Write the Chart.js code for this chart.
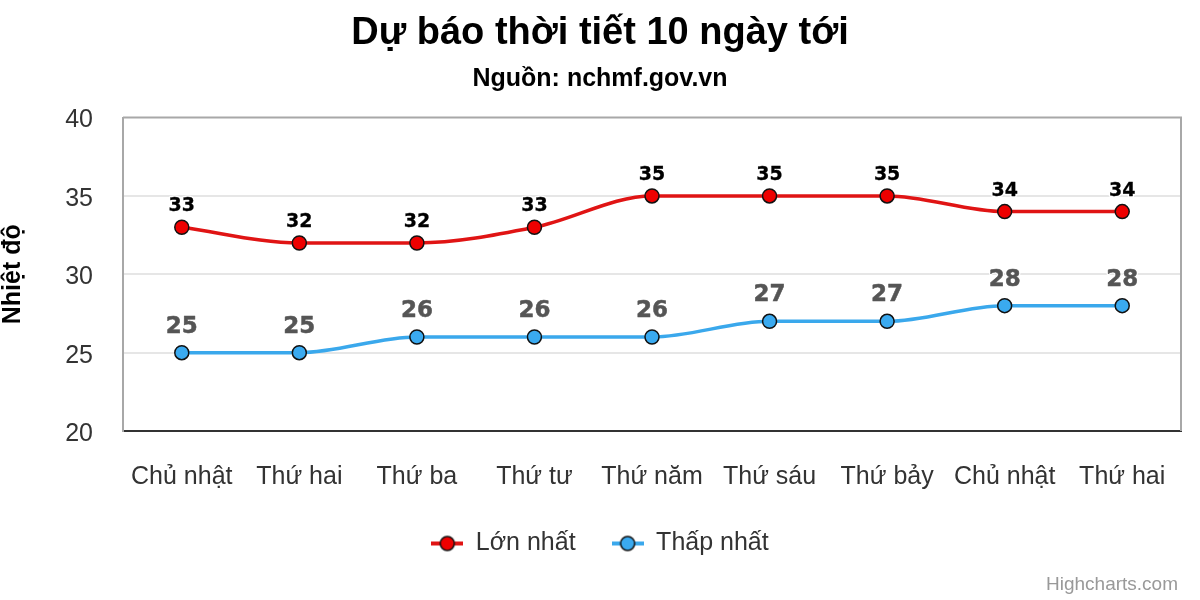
<!DOCTYPE html>
<html>
<head>
<meta charset="utf-8">
<script src="https://cdn.jsdelivr.net/npm/chart.js@4.4.1/dist/chart.umd.min.js"></script>
<style>
  html, body { margin: 0; padding: 0; background: #fff; }
  #wrap { position: relative; width: 1200px; height: 600px; }
  #credit { position: absolute; right: 22px; top: 573px; font: 19px 'Liberation Sans', Arial, sans-serif; color: #999; }
</style>
</head>
<body>
<div id="wrap">
  <canvas id="c" width="1200" height="600"></canvas>
  <div id="credit">Highcharts.com</div>
</div>
<script>
const categories = ['Chủ nhật', 'Thứ hai', 'Thứ ba', 'Thứ tư', 'Thứ năm', 'Thứ sáu', 'Thứ bảy', 'Chủ nhật', 'Thứ hai'];
const maxTemps = [33, 32, 32, 33, 35, 35, 35, 34, 34];
const minTemps = [25, 25, 26, 26, 26, 27, 27, 28, 28];
const yTicks = [20, 25, 30, 35, 40];
const seriesNames = ['Lớn nhất', 'Thấp nhất'];

const FONT = "'Liberation Sans', Arial, Helvetica, sans-serif";

function legendSymbol(lineColor, fillColor) {
  const cv = document.createElement('canvas');
  cv.width = 32; cv.height = 18;
  const g = cv.getContext('2d');
  g.strokeStyle = lineColor; g.lineWidth = 4;
  g.beginPath(); g.moveTo(0, 9); g.lineTo(32, 9); g.stroke();
  g.fillStyle = fillColor; g.strokeStyle = '#111'; g.lineWidth = 1.5;
  g.beginPath(); g.arc(16, 9, 7, 0, Math.PI * 2); g.fill(); g.stroke();
  return cv;
}

const plotBorder = {
  id: 'plotBorder',
  beforeDatasetsDraw(chart) {
    const {ctx, chartArea: a} = chart;
    ctx.save();
    ctx.strokeStyle = '#a8a8a8';
    ctx.lineWidth = 2;
    ctx.beginPath();
    ctx.moveTo(a.left, a.top);
    ctx.lineTo(a.right, a.top);
    ctx.lineTo(a.right, a.bottom);
    ctx.stroke();
    ctx.restore();
  }
};

const labelStyles = [
  {font: "bold 19px 'DejaVu Sans', sans-serif", color: '#000', offset: 21, weight: 0.3},
  {font: "bold 23px 'DejaVu Sans', sans-serif", color: '#555', offset: 26, weight: 0.5}
];

const dataLabels = {
  id: 'dataLabels',
  afterDatasetsDraw(chart) {
    const {ctx} = chart;
    chart.data.datasets.forEach((ds, i) => {
      const meta = chart.getDatasetMeta(i);
      if (meta.hidden) return;
      const st = labelStyles[i];
      ctx.save();
      ctx.font = st.font;
      ctx.textAlign = 'center';
      ctx.textBaseline = 'middle';
      ctx.lineJoin = 'round';
      meta.data.forEach((pt, j) => {
        const txt = String(ds.data[j]);
        const y = pt.y - st.offset;
        ctx.strokeStyle = '#fff';
        ctx.lineWidth = 3;
        ctx.strokeText(txt, pt.x, y);
        ctx.strokeStyle = st.color;
        ctx.lineWidth = st.weight;
        ctx.strokeText(txt, pt.x, y);
        ctx.fillStyle = st.color;
        ctx.fillText(txt, pt.x, y);
      });
      ctx.restore();
    });
  }
};

const legendImages = [legendSymbol('#e01414', '#ee0000'), legendSymbol('#3aa8ec', '#3aaaf0')];

new Chart(document.getElementById('c'), {
  type: 'line',
  data: {
    labels: categories,
    datasets: [
      {
        label: seriesNames[0],
        data: maxTemps,
        borderColor: '#e01414',
        backgroundColor: '#ee0000',
        borderWidth: 3.5,
        pointStyle: 'circle',
        pointRadius: 7,
        pointHoverRadius: 7,
        pointBackgroundColor: '#ee0000',
        pointBorderColor: '#111',
        pointBorderWidth: 1.5,
        cubicInterpolationMode: 'monotone'
      },
      {
        label: seriesNames[1],
        data: minTemps,
        borderColor: '#3aa8ec',
        backgroundColor: '#3aaaf0',
        borderWidth: 3.5,
        pointStyle: 'circle',
        pointRadius: 7,
        pointHoverRadius: 7,
        pointBackgroundColor: '#3aaaf0',
        pointBorderColor: '#111',
        pointBorderWidth: 1.5,
        cubicInterpolationMode: 'monotone'
      }
    ]
  },
  options: {
    responsive: false,
    animation: false,
    layout: { padding: { left: 19, right: 19, top: 0, bottom: 34 } },
    plugins: {
      title: {
        display: true,
        text: 'Dự báo thời tiết 10 ngày tới',
        color: '#000',
        font: { family: FONT, size: 38, weight: 'bold' },
        padding: { top: 11, bottom: 8 }
      },
      subtitle: {
        display: true,
        text: 'Nguồn: nchmf.gov.vn',
        color: '#000',
        font: { family: FONT, size: 25, weight: 'bold' },
        padding: { top: 0, bottom: 23 }
      },
      legend: {
        position: 'bottom',
        labels: {
          usePointStyle: true,
          pointStyleWidth: 32,
          padding: 36,
          color: '#333',
          font: { family: FONT, size: 25 },
          generateLabels(chart) {
            return chart.data.datasets.map((ds, i) => ({
              text: ds.label,
              fillStyle: ds.backgroundColor,
              strokeStyle: ds.borderColor,
              pointStyle: legendImages[i],
              hidden: !chart.isDatasetVisible(i),
              datasetIndex: i,
              fontColor: '#333'
            }));
          }
        }
      },
      tooltip: { enabled: false }
    },
    scales: {
      x: {
        offset: true,
        grid: { display: true, color: 'rgba(0,0,0,0)', drawTicks: false },
        border: { display: true, color: '#333', width: 2 },
        ticks: { color: '#333', font: { family: FONT, size: 25 }, padding: 31, maxRotation: 0, autoSkip: false },
        afterFit(scale) { scale.height = 64; }
      },
      y: {
        min: yTicks[0],
        max: yTicks[yTicks.length - 1],
        afterBuildTicks(scale) { scale.ticks = yTicks.map(v => ({value: v})); },
        grid: {
          drawTicks: false,
          lineWidth: 2,
          color: (c) => (c.tick && c.tick.value > yTicks[0] && c.tick.value < yTicks[yTicks.length - 1]) ? '#e6e6e6' : 'rgba(0,0,0,0)'
        },
        border: { display: true, color: '#a8a8a8', width: 2 },
        ticks: { color: '#333', font: { family: FONT, size: 25 }, padding: 30, labelOffset: 3 },
        title: {
          display: true,
          text: 'Nhiệt độ',
          color: '#000',
          font: { family: FONT, size: 25, weight: 'bold' },
          padding: { top: -21, bottom: 0 }
        },
        afterFit(scale) { scale.width = 104; }
      }
    }
  },
  plugins: [plotBorder, dataLabels]
});
</script>
</body>
</html>
